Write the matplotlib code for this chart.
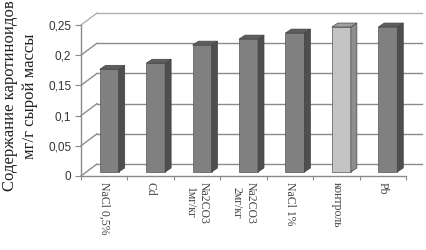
import numpy as np
import matplotlib
matplotlib.use('Agg')
import matplotlib.pyplot as plt
from matplotlib.patches import Polygon

categories = ['NaCl 0,5%', 'Cd', 'Na2CO3\n1мг/кг', 'Na2CO3\n2мг/кг', 'NaCl 1%', 'контроль', 'Pb']
values = [0.17, 0.18, 0.21, 0.22, 0.23, 0.24, 0.24]
front_colors = ['#808080', '#808080', '#808080', '#808080', '#808080', '#c4c4c4', '#808080']
side_colors = ['#4e4e4e', '#4e4e4e', '#4e4e4e', '#4e4e4e', '#4e4e4e', '#8e8e8e', '#4e4e4e']
top_colors = ['#5e5e5e', '#5e5e5e', '#5e5e5e', '#5e5e5e', '#5e5e5e', '#a0a0a0', '#5e5e5e']
yticks = [0, 0.05, 0.1, 0.15, 0.2, 0.25]
ytick_labels = ['0', '0,05', '0,1', '0,15', '0,2', '0,25']

W, H = 426, 250
fig = plt.figure(figsize=(W / 100, H / 100), dpi=100)
left, right, top, bottom = 81, 406, 25, 176
ax = fig.add_axes([left / W, (H - bottom) / H, (right - left) / W, (bottom - top) / H])
n = len(categories)
ymax = 0.25
ax.set_xlim(0, n)
ax.set_ylim(0, ymax)
ax.patch.set_visible(False)

# pixel -> data conversions
ppx = (right - left) / n
ppy = (bottom - top) / ymax
def dxp(p):
    return p / ppx
def dyp(p):
    return p / ppy

# back wall / left wall (fake 3d)
wall_dx, wall_dy = dxp(16), dyp(12)
grid_col = '#8c8c8c'
for v in yticks:
    c = '#b0b0b0' if v == yticks[-1] else grid_col
    ax.plot([wall_dx, n + wall_dx], [v + wall_dy, v + wall_dy], color=c, lw=1.0, zorder=1, clip_on=False)
    ax.plot([0, wall_dx], [v, v + wall_dy], color=c, lw=1.0, zorder=1, clip_on=False)

# bars
off_x, off_y = dxp(5), dyp(4)
depth_x, depth_y = dxp(6), dyp(4)
bw = dxp(19)
xs = np.arange(n) + 0.5 + off_x
ax.bar(xs, values, width=bw, bottom=off_y, color=front_colors, edgecolor='#555555', linewidth=0.5, zorder=3)
for x, v, sc, tc in zip(xs, values, side_colors, top_colors):
    r = x + bw / 2
    l = x - bw / 2
    t = off_y + v
    side = Polygon([(r, off_y), (r + depth_x, off_y + depth_y), (r + depth_x, t + depth_y), (r, t)],
                   closed=True, facecolor=sc, edgecolor='#444444', lw=0.5, zorder=3, clip_on=False)
    topf = Polygon([(l, t), (r, t), (r + depth_x, t + depth_y), (l + depth_x, t + depth_y)],
                   closed=True, facecolor=tc, edgecolor='#444444', lw=0.5, zorder=3, clip_on=False)
    ax.add_patch(side)
    ax.add_patch(topf)

for s in ['top', 'right']:
    ax.spines[s].set_visible(False)
for s in ['left', 'bottom']:
    ax.spines[s].set_color('#8a8a8a')
    ax.spines[s].set_linewidth(1.0)

ax.set_yticks(yticks)
ax.set_yticklabels(ytick_labels, fontsize=8.5, family='Liberation Sans', color='#333333')
ax.tick_params(axis='y', direction='out', length=4, color='#8a8a8a', pad=3)

ax.set_xticks(range(n + 1))
ax.set_xticklabels([''] * (n + 1))
ax.tick_params(axis='x', which='major', direction='out', length=3, color='#8a8a8a')
ax.set_xticks(np.arange(n) + 0.5, categories, minor=True)
ax.tick_params(axis='x', which='minor', length=0, pad=4, labelrotation=-90,
               labelsize=8.5, labelcolor='#444444')
for lab in ax.get_xticklabels(minor=True):
    lab.set_family('Liberation Serif')
    lab.set_linespacing(1.15)

fig.text(20 / W, 1 - 96 / H, 'Содержание каротиноидов\nмг/г сырой массы', rotation=90,
         ha='center', va='center', fontsize=12, family='Liberation Serif', linespacing=1.3,
         multialignment='center', color='#222222')

fig.savefig('out.png', dpi=100)
